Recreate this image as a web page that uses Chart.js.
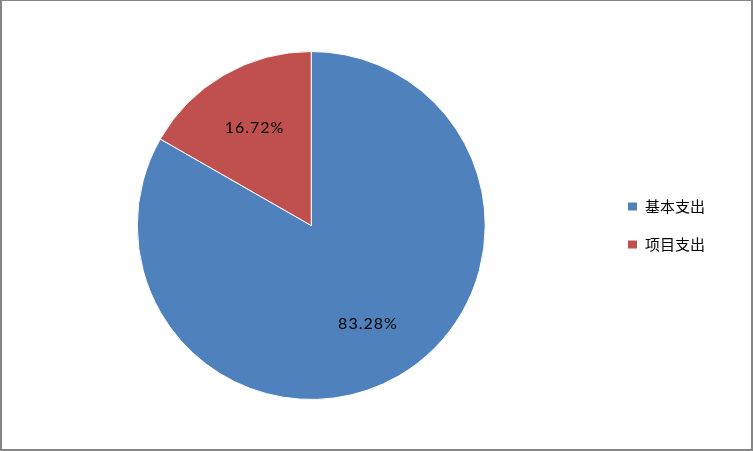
<!DOCTYPE html>
<html>
<head>
<meta charset="utf-8">
<script src="https://cdn.jsdelivr.net/npm/chart.js@4"></script>
<style>
  html, body { margin: 0; padding: 0; background: #fff; }
  #wrap { position: relative; width: 753px; height: 451px; }
  #frame {
    position: absolute; left: 0; top: 0;
    width: 753px; height: 451px;
    box-sizing: border-box;
    border-style: solid;
    border-color: #868686;
    border-width: 1px 2px 2px 2px;
    pointer-events: none;
  }
  canvas { display: block; }
</style>
</head>
<body>
<div id="wrap"><canvas id="pie" width="753" height="451"></canvas><div id="frame"></div></div>
<script>
// data
const labels = ['基本支出', '项目支出'];
const shares = [83.28, 16.72];
const colors = ['#4F81BD', '#C0504D'];

// draws the percent text inside each slice
const sliceLabels = {
    id: 'sliceLabels',
    afterDatasetsDraw(chart) {
        const ctx = chart.ctx;
        const meta = chart.getDatasetMeta(0);
        ctx.save();
        ctx.font = '16px Lato';
        ctx.letterSpacing = '1px';
        ctx.fillStyle = '#000';
        ctx.textAlign = 'center';
        ctx.textBaseline = 'middle';
        meta.data.forEach((arc, i) => {
            const p = arc.getProps(['x', 'y', 'startAngle', 'endAngle', 'outerRadius'], true);
            const mid = (p.startAngle + p.endAngle) / 2;
            const r = p.outerRadius * 0.65;
            ctx.fillText(shares[i].toFixed(2) + '%', p.x + Math.cos(mid) * r, p.y + Math.sin(mid) * r);
        });
        ctx.restore();
    }
};

let myChart = document.getElementById('pie').getContext('2d');
Chart.defaults.font.family = '"Noto Sans CJK SC"';
Chart.defaults.color = '#000';

let chart = new Chart(myChart, {
    type: 'pie',
    data: {
        labels: labels,
        datasets: [{
            data: shares,
            backgroundColor: colors,
            borderColor: '#fff',
            borderWidth: 1,
        }],
    },
    options: {
        responsive: false,
        animation: false,
        devicePixelRatio: 1,
        layout: {
            padding: { left: 18, top: 51, bottom: 51, right: 38 },
        },
        plugins: {
            legend: {
                display: true,
                position: 'right',
                labels: {
                    boxWidth: 10,
                    boxHeight: 9,
                    padding: 23,
                    font: { size: 15 },
                },
            },
            tooltip: { enabled: false },
        },
    },
    plugins: [sliceLabels],
});
</script>
</body>
</html>
